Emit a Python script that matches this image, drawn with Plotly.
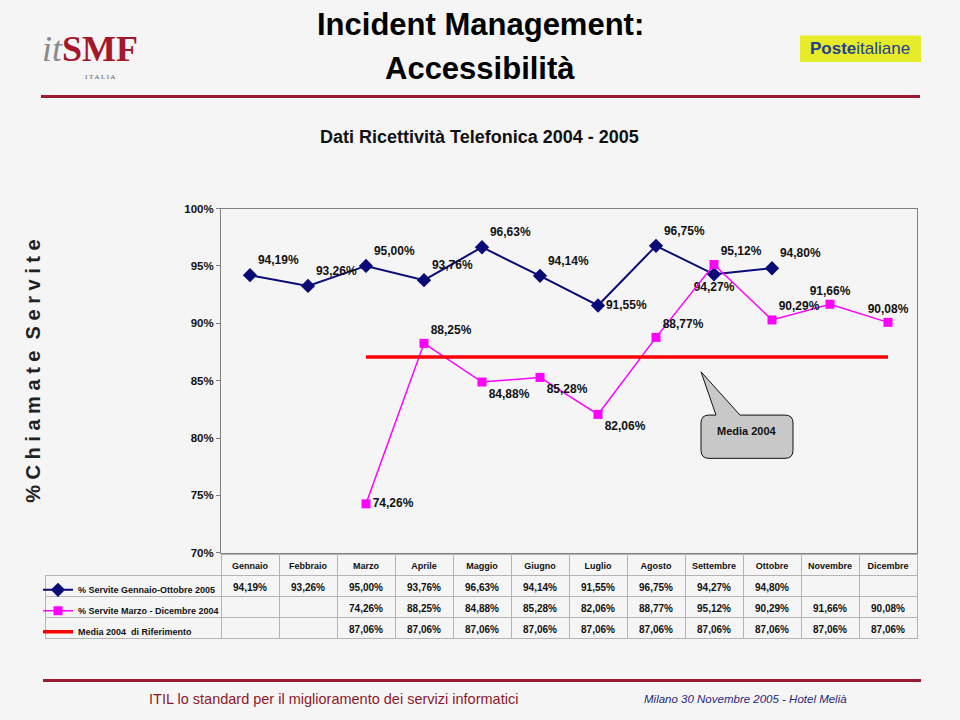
import plotly.graph_objects as go

W, H = 960, 720

months = ["Gennaio", "Febbraio", "Marzo", "Aprile", "Maggio", "Giugno",
          "Luglio", "Agosto", "Settembre", "Ottobre", "Novembre", "Dicembre"]
serie_2005 = [94.19, 93.26, 95.00, 93.76, 96.63, 94.14, 91.55, 96.75, 94.27, 94.80, None, None]
serie_2004 = [None, None, 74.26, 88.25, 84.88, 85.28, 82.06, 88.77, 95.12, 90.29, 91.66, 90.08]
media_2004 = [None, None, 87.06, 87.06, 87.06, 87.06, 87.06, 87.06, 87.06, 87.06, 87.06, 87.06]

name_2005 = "% Servite Gennaio-Ottobre 2005"
name_2004 = "% Servite Marzo - Dicembre 2004"
name_media = "Media 2004  di Riferimento"

pos_2005 = ["top right", "top right", "top right", "top right", "top right", "top right",
            "middle right", "top right", "bottom center", "top right", "top right", "top right"]
pos_2004 = ["top right", "top right", "middle right", "top right", "bottom right", "bottom right",
            "bottom right", "top right", "top right", "top right", "top center", "top center"]

SANS = "Liberation Sans, Arial, sans-serif"
SERIF = "Liberation Serif, DejaVu Serif, serif"


def fmt(v):
    return "" if v is None else f"{v:.2f}".replace(".", ",") + "%"


def px(x):
    return x / W


def py(y):
    return 1 - y / H


fig = go.Figure()

fig.add_trace(go.Scatter(
    x=months, y=serie_2005, name=name_2005, mode="lines+markers+text",
    line=dict(color="#0b0b78", width=2),
    marker=dict(symbol="diamond", size=11, color="#0b0b78"),
    text=[fmt(v) for v in serie_2005], textposition=pos_2005,
    textfont=dict(family=SANS, size=12, color="#111", weight="bold"),
    legendgroup="a", cliponaxis=False,
))
fig.add_trace(go.Scatter(
    x=months, y=serie_2004, name=name_2004, mode="lines+markers+text",
    line=dict(color="#ff00ff", width=1.5),
    marker=dict(symbol="square", size=9, color="#ff00ff"),
    text=[fmt(v) for v in serie_2004], textposition=pos_2004,
    textfont=dict(family=SANS, size=12, color="#111", weight="bold"),
    legendgroup="b", cliponaxis=False,
))
fig.add_trace(go.Scatter(
    x=months, y=media_2004, name=name_media, mode="lines",
    line=dict(color="#ff0000", width=3.5),
    legendgroup="c",
))

# data table under the chart
header_vals = [""] + months
cell_cols = [["", "", ""]] + [[fmt(serie_2005[i]), fmt(serie_2004[i]), fmt(media_2004[i])]
                               for i in range(len(months))]
fig.add_trace(go.Table(
    domain=dict(x=[px(45), px(917)], y=[py(662), py(558)]),
    columnwidth=[176] + [58] * 12,
    header=dict(values=header_vals, height=21, align="center",
                fill=dict(color="rgba(0,0,0,0)"),
                line=dict(color=["rgba(0,0,0,0)"] + ["#b4b4b4"] * 12, width=1),
                font=dict(family=SANS, size=9, color="#111", weight="bold")),
    cells=dict(values=cell_cols, height=21, align="center",
               fill=dict(color="rgba(0,0,0,0)"),
               line=dict(color="#b4b4b4", width=1),
               font=dict(family=SANS, size=10, color="#111", weight="bold")),
))

P = dict(xref="paper", yref="paper")
shapes = []
# rules
shapes.append(dict(type="line", **P, x0=px(41), x1=px(920), y0=py(92), y1=py(92),
                   line=dict(color="#9b1b30", width=3)))
shapes.append(dict(type="line", **P, x0=px(43), x1=px(921), y0=py(686), y1=py(686),
                   line=dict(color="#9b1b30", width=3)))
# Poste box
shapes.append(dict(type="rect", **P, x0=px(800), x1=px(921), y0=py(57), y1=py(30),
                   fillcolor="#e6ec2a", line=dict(width=0), layer="below"))
# callout
pts = [("M", 709, 416), ("L", 716, 416), ("L", 701, 372), ("L", 740, 416), ("L", 785, 416),
       ("Q", 793, 416, 793, 424), ("L", 793, 452), ("Q", 793, 460, 785, 460), ("L", 709, 460),
       ("Q", 701, 460, 701, 452), ("L", 701, 424), ("Q", 701, 416, 709, 416)]
path = ""
for p in pts:
    coords = p[1:]
    s = [f"{px(coords[j]):.5f},{py(coords[j+1]):.5f}" for j in range(0, len(coords), 2)]
    path += p[0] + " " + " ".join(s) + " "
path += "Z"
shapes.append(dict(type="path", **P, path=path,
                   fillcolor="#c8c8c8", line=dict(color="#111", width=1)))


def note(x, y, text, font, **kw):
    d = dict(xref="paper", yref="paper", x=px(x), y=py(y), text=text, showarrow=False,
             xanchor="center", yanchor="middle", font=font)
    d.update(kw)
    return d


annotations = [
    note(480, 19, "<b>Incident Management:</b>", dict(family=SANS, size=31, color="#000")),
    note(480, 64, "<b>Accessibilità</b>", dict(family=SANS, size=31, color="#000")),
    note(479, 133, "<b>Dati Ricettività Telefonica 2004 - 2005</b>", dict(family=SANS, size=18, color="#111")),
    note(33, 372, "<b>% C h i a m a t e  S e r v i t e</b>", dict(family=SANS, size=20, color="#222"),
         textangle=-90),
    note(747, 432, "<b>Media 2004</b>", dict(family=SANS, size=11, color="#111")),
    note(40, 44, "<span style='color:#8a8a8a'><i>it</i></span><span style='color:#a3182b'><b>SMF</b></span>",
         dict(family=SERIF, size=36), xanchor="left"),
    note(100, 72, "I T A L I A", dict(family=SERIF, size=7, color="#555")),
    note(860, 43, "<b>Poste</b>italiane", dict(family=SANS, size=17, color="#24408e")),
    note(333, 705, "ITIL lo standard per il miglioramento dei servizi informatici",
         dict(family=SANS, size=14.5, color="#8b1a2b")),
    note(745, 705, "<i>Milano 30 Novembre 2005 - Hotel Melià</i>",
         dict(family=SANS, size=11.5, color="#28287a")),
]

fig.update_layout(
    width=W, height=H, autosize=False,
    margin=dict(l=0, r=0, t=0, b=0, pad=0),
    paper_bgcolor="#f5f5f5", plot_bgcolor="rgba(0,0,0,0)",
    showlegend=True,
    legend=dict(x=px(38), y=py(579), xanchor="left", yanchor="top",
                bgcolor="rgba(0,0,0,0)", borderwidth=0, tracegroupgap=2,
                itemwidth=30, traceorder="grouped",
                font=dict(family=SANS, size=9, color="#111", weight="bold")),
    xaxis=dict(domain=[px(221), px(917)], type="category", range=[-0.5, 11.5],
               showticklabels=False, showgrid=False, zeroline=False,
               showline=True, mirror=True, linecolor="#808080", linewidth=1, ticks=""),
    yaxis=dict(domain=[py(556), py(206)], range=[70, 100], dtick=5, ticksuffix="%",
               showgrid=False, zeroline=False, showline=True, mirror=True,
               linecolor="#808080", linewidth=1, ticks="outside", ticklen=4, tickcolor="#808080",
               tickfont=dict(family=SANS, size=11.5, color="#111", weight="bold")),
    shapes=shapes, annotations=annotations,
)

fig.write_html("out.html", config={"displayModeBar": False},
               post_script="document.body.style.margin='0';document.body.style.padding='0';")
